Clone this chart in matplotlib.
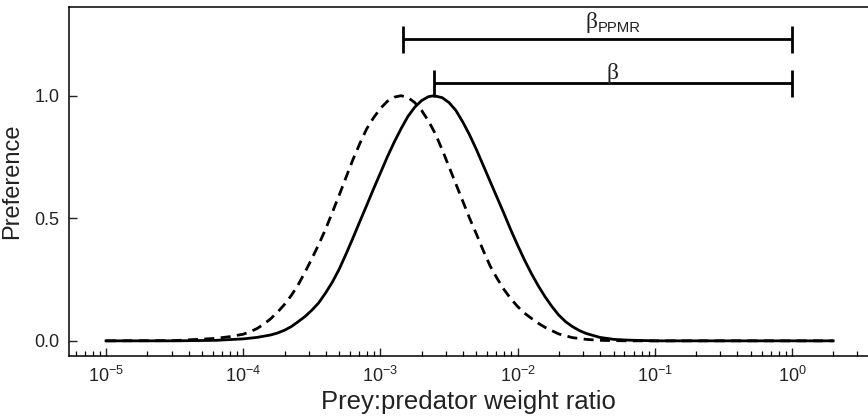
import matplotlib
matplotlib.use('Agg')
import matplotlib.pyplot as plt
import numpy as np

plt.rcParams['font.family'] = ['Liberation Sans', 'DejaVu Sans']
plt.rcParams['mathtext.fontset'] = 'custom'
plt.rcParams['mathtext.rm'] = 'Liberation Sans'
plt.rcParams['mathtext.it'] = 'Liberation Sans:italic'
plt.rcParams['mathtext.bf'] = 'Liberation Sans:bold'

# values (x as log10 of the weight ratio)
solid_log_x = [-5.0, -4.5, -4.2, -4.0, -3.9, -3.8, -3.75, -3.7, -3.65, -3.6, -3.55,
               -3.5, -3.45, -3.4, -3.35, -3.3, -3.25, -3.2, -3.15, -3.1, -3.05,
               -3.0, -2.95, -2.9, -2.85, -2.8, -2.75, -2.7, -2.65, -2.61, -2.55,
               -2.5, -2.45, -2.4, -2.35, -2.3, -2.25, -2.2, -2.15, -2.1, -2.05,
               -2.0, -1.95, -1.9, -1.85, -1.8, -1.75, -1.7, -1.65, -1.6, -1.55,
               -1.5, -1.4, -1.3, -1.2, -1.0, -0.5, 0.0, 0.3]
solid_pref = [0.0, 0.0, 0.002, 0.008, 0.014, 0.024, 0.032, 0.043, 0.058, 0.078, 0.099,
              0.125, 0.155, 0.195, 0.24, 0.293, 0.355, 0.42, 0.487, 0.553, 0.62,
              0.685, 0.75, 0.81, 0.865, 0.915, 0.953, 0.98, 0.996, 1.0, 0.992,
              0.972, 0.94, 0.893, 0.84, 0.78, 0.715, 0.65, 0.585, 0.52, 0.453,
              0.39, 0.33, 0.275, 0.225, 0.18, 0.14, 0.105, 0.078, 0.058, 0.042,
              0.03, 0.014, 0.006, 0.003, 0.0, 0.0, 0.0, 0.0]

dashed_log_x = [-5.0, -4.5, -4.2, -4.1, -4.0, -3.95, -3.9, -3.85, -3.8, -3.75, -3.7, -3.65,
                -3.6, -3.55, -3.5, -3.45, -3.4, -3.35, -3.3, -3.25, -3.2, -3.15,
                -3.1, -3.05, -3.0, -2.95, -2.9, -2.85, -2.8, -2.75, -2.7, -2.65,
                -2.6, -2.55, -2.5, -2.45, -2.4, -2.35, -2.3, -2.25, -2.2, -2.15,
                -2.1, -2.05, -2.0, -1.95, -1.9, -1.85, -1.8, -1.7, -1.6, -1.5,
                -1.4, -1.2, -1.0, -0.5, 0.0, 0.3]
dashed_pref = [0.0, 0.001, 0.01, 0.017, 0.027, 0.037, 0.05, 0.068, 0.09, 0.117, 0.148, 0.185,
               0.228, 0.28, 0.335, 0.393, 0.455, 0.525, 0.595, 0.668, 0.74, 0.805,
               0.865, 0.91, 0.948, 0.977, 0.994, 1.0, 0.993, 0.972, 0.94, 0.897,
               0.845, 0.78, 0.71, 0.64, 0.57, 0.5, 0.435, 0.368, 0.305, 0.255,
               0.21, 0.172, 0.14, 0.113, 0.092, 0.072, 0.055, 0.028, 0.013, 0.006,
               0.002, 0.0, 0.0, 0.0, 0.0, 0.0]

# bracket ends: (left ratio, right ratio, height)
beta_ppmr = (1.46e-3, 1.0, 1.23)
beta = (2.47e-3, 1.0, 1.05)

solid_x = 10.0 ** np.array(solid_log_x)
dashed_x = 10.0 ** np.array(dashed_log_x)

fig = plt.figure(figsize=(8.68, 4.2), dpi=100)
ax = fig.add_axes([0.0795, 0.152, 0.9205, 0.832])

ax.plot(solid_x, solid_pref, color='black', lw=2.0, solid_joinstyle='round')
ax.plot(dashed_x, dashed_pref, color='black', lw=2.0, linestyle=(0, (3.6, 2.3)))

# brackets
cap = 0.055
for left, right, h in (beta_ppmr, beta):
    ax.plot([left, right], [h, h], color='black', lw=2.0, solid_capstyle='butt')
    ax.plot([left, left], [h - cap, h + cap], color='black', lw=2.0, solid_capstyle='butt')
    ax.plot([right, right], [h - cap, h + cap], color='black', lw=2.0, solid_capstyle='butt')

# labels over the brackets
ax.annotate('β', xy=(0.0379, beta_ppmr[2]), xytext=(0, 8), textcoords='offset points',
            ha='right', va='baseline', fontsize=17, family=['Liberation Serif', 'DejaVu Serif'],
            color='#222222')
ax.annotate('PPMR', xy=(0.0385, beta_ppmr[2]), xytext=(0, 5), textcoords='offset points',
            ha='left', va='baseline', fontsize=10.7, color='#222222')
ax.annotate('β', xy=(0.0495, beta[2]), xytext=(0, 3.5), textcoords='offset points',
            ha='center', va='baseline', fontsize=17, family=['Liberation Serif', 'DejaVu Serif'],
            color='#222222')

ax.set_xscale('log')
ax.set_xlim(10 ** -5.27, 10 ** 0.554)
ax.set_ylim(-0.0625, 1.363)
ax.set_xticks([1e-5, 1e-4, 1e-3, 1e-2, 1e-1, 1e0])
ax.set_yticks([0.0, 0.5, 1.0])
ax.set_yticklabels(['0.0', '0.5', '1.0'])

ax.tick_params(axis='both', which='major', direction='in', length=6, width=1.0,
               labelsize=13, pad=7, colors='#222222')
ax.tick_params(axis='x', which='minor', direction='in', length=3.5, width=0.9)
ax.spines['right'].set_visible(False)
for s in ('left', 'bottom', 'top'):
    ax.spines[s].set_linewidth(1.1)

ax.set_xlabel('Prey:predator weight ratio', fontsize=18.5, labelpad=3, color='#222222')
ax.set_ylabel('Preference', fontsize=17, labelpad=8, color='#222222')

fig.savefig('out.png', dpi=100)
